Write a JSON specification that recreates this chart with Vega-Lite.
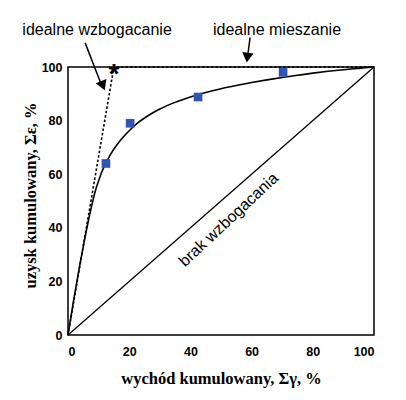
{
  "$schema": "https://vega.github.io/schema/vega-lite/v6.json",
  "width": 306,
  "height": 268,
  "autosize": "none",
  "padding": {"left": 68, "top": 67, "right": 32, "bottom": 65},
  "background": "white",
  "config": {
    "view": {"stroke": "black", "strokeWidth": 1.5},
    "axis": {
      "domain": false,
      "grid": false,
      "ticks": false,
      "labelFont": "Liberation Sans",
      "labelFontWeight": "bold",
      "labelFontSize": 12.5,
      "labelColor": "black",
      "titleFont": "Liberation Serif",
      "titleFontWeight": "bold",
      "titleFontSize": 16.5,
      "titleColor": "black"
    }
  },
  "datasets": {
    "curve": [
      {"x": 0, "y": 0}, {"x": 1, "y": 7}, {"x": 2, "y": 14}, {"x": 3, "y": 20.5},
      {"x": 4, "y": 27}, {"x": 5, "y": 33}, {"x": 6, "y": 39}, {"x": 7, "y": 44.5},
      {"x": 8, "y": 49.5}, {"x": 9, "y": 54}, {"x": 10, "y": 57.5}, {"x": 11, "y": 60.7},
      {"x": 12, "y": 63.3}, {"x": 14, "y": 67.6}, {"x": 16, "y": 71}, {"x": 18, "y": 73.8},
      {"x": 20, "y": 76.2}, {"x": 23, "y": 79.3}, {"x": 26, "y": 81.7}, {"x": 30, "y": 84.3},
      {"x": 35, "y": 86.8}, {"x": 40, "y": 88.8}, {"x": 45, "y": 90.5}, {"x": 50, "y": 91.9},
      {"x": 55, "y": 93.1}, {"x": 60, "y": 94.2}, {"x": 65, "y": 95.2}, {"x": 70, "y": 96.1},
      {"x": 75, "y": 96.9}, {"x": 80, "y": 97.7}, {"x": 85, "y": 98.4}, {"x": 90, "y": 99},
      {"x": 95, "y": 99.5}, {"x": 100, "y": 100}
    ],
    "points": [
      {"x": 12.4, "y": 64}, {"x": 20.3, "y": 79}, {"x": 42.5, "y": 88.8}, {"x": 70.3, "y": 98}
    ],
    "diag": [{"x": 0, "y": 0}, {"x": 100, "y": 100}],
    "ideal": [{"x": 0, "y": 0}, {"x": 15, "y": 100}, {"x": 100, "y": 100}],
    "star": [{"x": 15, "y": 100}],
    "labels": [
      {"x": 9.5, "y": 113.8, "text": "idealne wzbogacanie"},
      {"x": 68.3, "y": 113.8, "text": "idealne mieszanie"}
    ],
    "diaglabel": [{"x": 52.5, "y": 43, "text": "brak wzbogacania"}],
    "arrow1": [{"x": 5.6, "y": 109, "x2": 11.2, "y2": 92.5}],
    "arrow1head": [{"x": 11.4, "y": 93}],
    "arrow2": [{"x": 59.5, "y": 111, "x2": 58.7, "y2": 104}],
    "arrow2head": [{"x": 58.6, "y": 103.5}],
    "xmajor": [{"x": 20}, {"x": 40}, {"x": 60}, {"x": 80}],
    "xminor": [{"x": 10}, {"x": 30}, {"x": 50}, {"x": 70}, {"x": 90}],
    "ymajor": [{"y": 20}, {"y": 40}, {"y": 60}, {"y": 80}],
    "yminor": [{"y": 10}, {"y": 30}, {"y": 50}, {"y": 70}, {"y": 90}]
  },
  "encoding": {
    "x": {
      "field": "x", "type": "quantitative",
      "scale": {"domain": [0, 100], "nice": false},
      "axis": {
        "values": [0, 20, 40, 60, 80, 100],
        "labelPadding": 10,
        "title": "wychód kumulowany,  Σγ, %",
        "titleBaseline": "middle",
        "titleY": 43
      }
    },
    "y": {
      "field": "y", "type": "quantitative",
      "scale": {"domain": [0, 100], "nice": false},
      "axis": {
        "values": [0, 20, 40, 60, 80, 100],
        "labelPadding": 6,
        "title": "uzysk kumulowany,  Σε, %",
        "titleBaseline": "middle",
        "titleAngle": -90,
        "titleX": -38,
        "titleY": 128
      }
    }
  },
  "layer": [
    {"data": {"name": "diag"}, "mark": {"type": "line", "color": "black", "strokeWidth": 1.3}},
    {"data": {"name": "curve"}, "mark": {"type": "line", "color": "black", "strokeWidth": 1.6, "interpolate": "monotone"}},
    {"data": {"name": "ideal"}, "mark": {"type": "line", "color": "black", "strokeWidth": 1.6, "strokeDash": [2.5, 2]}},
    {
      "data": {"name": "xmajor"},
      "mark": {"type": "tick", "orient": "vertical", "color": "black", "thickness": 1.5, "size": 12, "opacity": 1},
      "encoding": {"y": {"datum": 0}}
    },
    {
      "data": {"name": "xminor"},
      "mark": {"type": "tick", "orient": "vertical", "color": "black", "thickness": 1.5, "size": 7, "opacity": 1},
      "encoding": {"y": {"datum": 0}}
    },
    {
      "data": {"name": "ymajor"},
      "mark": {"type": "tick", "orient": "horizontal", "color": "black", "thickness": 1.5, "size": 12, "opacity": 1},
      "encoding": {"x": {"datum": 0}}
    },
    {
      "data": {"name": "yminor"},
      "mark": {"type": "tick", "orient": "horizontal", "color": "black", "thickness": 1.5, "size": 7, "opacity": 1},
      "encoding": {"x": {"datum": 0}}
    },
    {"data": {"name": "points"}, "mark": {"type": "point", "shape": "square", "filled": true, "color": "#2f55b5", "size": 75, "opacity": 1}},
    {"data": {"name": "star"}, "mark": {"type": "text", "text": "*", "font": "Liberation Sans", "fontWeight": "bold", "fontSize": 28, "dy": 8, "color": "black"}},
    {"data": {"name": "labels"}, "mark": {"type": "text", "font": "Liberation Sans", "fontSize": 16, "color": "black"}, "encoding": {"text": {"field": "text"}}},
    {"data": {"name": "diaglabel"}, "mark": {"type": "text", "font": "Liberation Sans", "fontSize": 16, "angle": -43, "color": "black"}, "encoding": {"text": {"field": "text"}}},
    {"data": {"name": "arrow1"}, "mark": {"type": "rule", "color": "black", "strokeWidth": 1.5}, "encoding": {"x2": {"field": "x2"}, "y2": {"field": "y2"}}},
    {"data": {"name": "arrow1head"}, "mark": {"type": "point", "shape": "triangle-down", "filled": true, "color": "black", "size": 130, "angle": -21, "opacity": 1}},
    {"data": {"name": "arrow2"}, "mark": {"type": "rule", "color": "black", "strokeWidth": 1.5}, "encoding": {"x2": {"field": "x2"}, "y2": {"field": "y2"}}},
    {"data": {"name": "arrow2head"}, "mark": {"type": "point", "shape": "triangle-down", "filled": true, "color": "black", "size": 130, "angle": 7, "opacity": 1}}
  ]
}
